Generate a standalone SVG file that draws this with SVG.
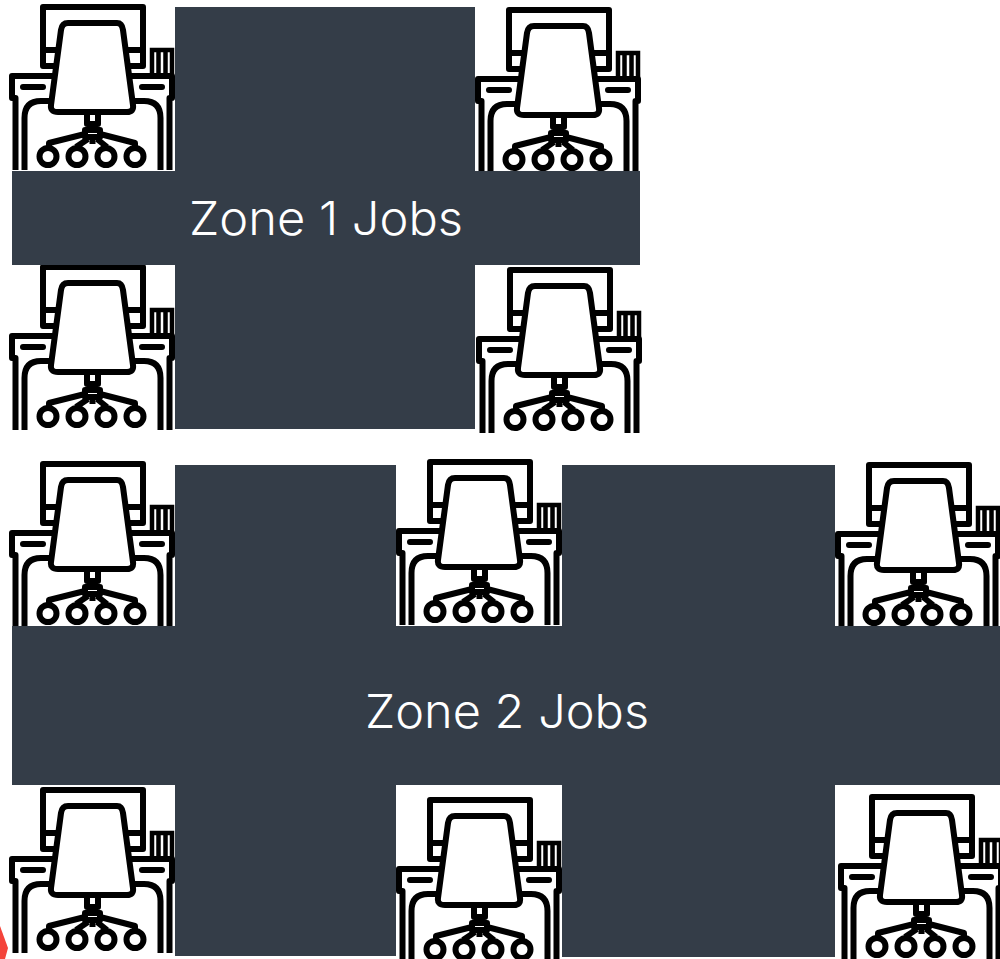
<svg xmlns="http://www.w3.org/2000/svg" width="1000" height="959" viewBox="0 0 1000 959">
<style>
.z{fill:#343d48}
.l{fill:none;stroke:#000;stroke-width:6;stroke-linejoin:round}
.t{font-family:"Inter","Open Sans","Liberation Sans",sans-serif;font-size:47px;font-weight:300;fill:#fff}
</style>
<defs>
<g id="desk">
<rect x="9" y="4" width="166" height="167" fill="#fff"/>
<path class="l" d="M43 66V7H143V66ZM43 50H143"/>
<path d="M152 74V50H172V74M158.500 50V74M165.500 50V74" fill="none" stroke="#000" stroke-width="4.500"/>
<path class="l" d="M60 76H12V98H15.500V170M24.500 170V118Q24.500 101 41 101H52"/>
<path class="l" d="M125 76H172V98H169.500V170M160.500 170V118Q160.500 101 144 101H133"/>
<path d="M23 87H43M142 87H162" fill="none" stroke="#000" stroke-width="6" stroke-linecap="round"/>
<path d="M68 23H117Q122 23 123 30L133 105Q134 112 127 112H58Q50 112 51 105L61 30Q62 23 68 23Z" fill="#fff" stroke="#000" stroke-width="6" stroke-linejoin="round"/>
<path class="l" d="M87 114V124H98V114M92.500 124V130M85 130H100V137H85ZM92.500 137V144"/>
<path class="l" d="M85 134L49 143V149M100 134L135 143V149M88 139L76 147M97 139L107 147"/>
<circle class="l" cx="48" cy="156.500" r="8.500"/><circle class="l" cx="77" cy="156.500" r="8.500"/><circle class="l" cx="106" cy="156.500" r="8.500"/><circle class="l" cx="135" cy="156.500" r="8.500"/>
</g>
</defs>
<rect width="1000" height="959" fill="#fff"/>
<path d="M0 926L8 948L5 959H0Z" fill="#f4433a"/>
<g id="zone1">
<rect class="z" x="175" y="7" width="300" height="422"/>
<g id="desk1"><use href="#desk"/></g>
<g id="desk2"><use href="#desk" x="466" y="3"/></g>
<g id="desk3"><use href="#desk" y="260"/></g>
<g id="desk4"><use href="#desk" x="467" y="263"/></g>
<rect class="z" x="12" y="171" width="628" height="94"/>
<text class="t" x="189" y="235" textLength="274" lengthAdjust="spacingAndGlyphs">Zone 1 Jobs</text>
</g>
<g id="zone2">
<rect class="z" x="175" y="465" width="221" height="491"/>
<rect class="z" x="562" y="465" width="273" height="492"/>
<g id="desk5"><use href="#desk" y="457"/></g>
<g id="desk6"><use href="#desk" x="387" y="455"/></g>
<g id="desk7"><use href="#desk" x="826" y="458"/></g>
<g id="desk8"><use href="#desk" y="783"/></g>
<g id="desk9"><use href="#desk" x="387" y="793"/></g>
<g id="desk10"><use href="#desk" x="829" y="790"/></g>
<rect class="z" x="12" y="626" width="988" height="159"/>
<text class="t" x="365" y="728" textLength="284" lengthAdjust="spacingAndGlyphs">Zone 2 Jobs</text>
</g>
</svg>
